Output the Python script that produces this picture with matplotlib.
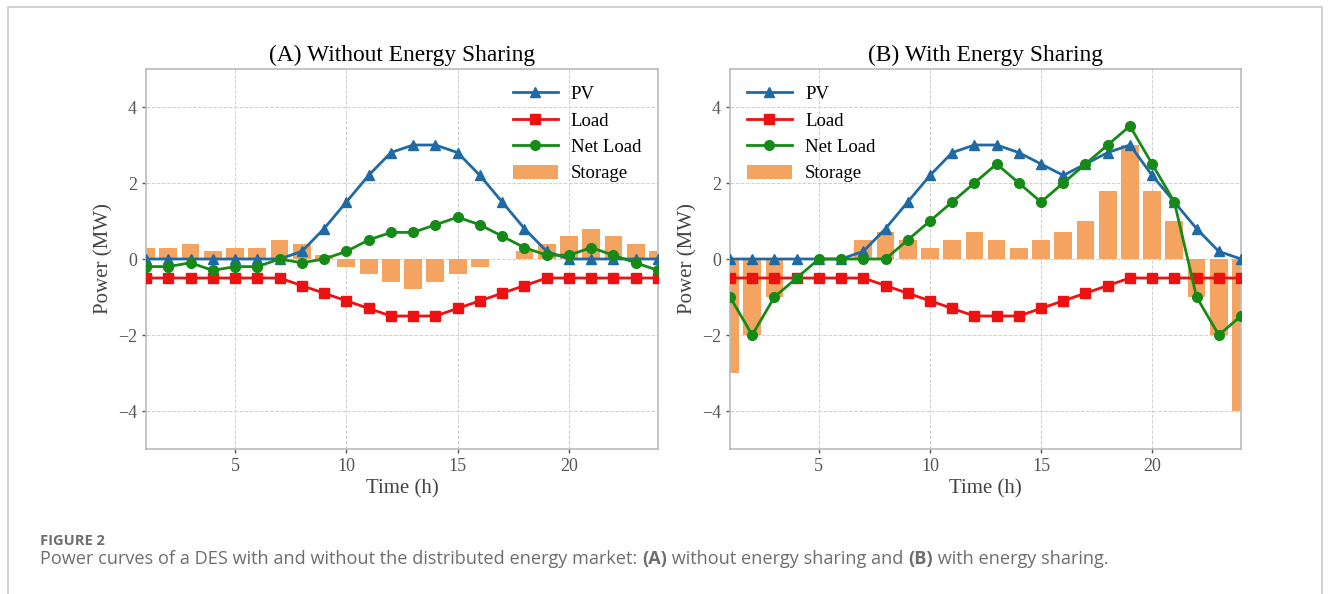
import matplotlib
matplotlib.use("Agg")
import matplotlib.pyplot as plt
import numpy as np
from matplotlib.patches import Rectangle

hours = np.arange(1, 25)

# (A) without energy sharing
pv_a = [0, 0, 0, 0, 0, 0, 0, 0.2, 0.8, 1.5, 2.2, 2.8, 3.0, 3.0, 2.8, 2.2, 1.5, 0.8, 0.2, 0, 0, 0, 0, 0]
load_a = [-0.5, -0.5, -0.5, -0.5, -0.5, -0.5, -0.5, -0.7, -0.9, -1.1, -1.3, -1.5,
          -1.5, -1.5, -1.3, -1.1, -0.9, -0.7, -0.5, -0.5, -0.5, -0.5, -0.5, -0.5]
net_a = [-0.2, -0.2, -0.1, -0.3, -0.2, -0.2, 0, -0.1, 0, 0.2, 0.5, 0.7,
         0.7, 0.9, 1.1, 0.9, 0.6, 0.3, 0.1, 0.1, 0.3, 0.1, -0.1, -0.3]
storage_a = [0.3, 0.3, 0.4, 0.2, 0.3, 0.3, 0.5, 0.4, 0.1, -0.2, -0.4, -0.6,
             -0.8, -0.6, -0.4, -0.2, 0, 0.2, 0.4, 0.6, 0.8, 0.6, 0.4, 0.2]

# (B) with energy sharing
pv_b = [0, 0, 0, 0, 0, 0, 0.2, 0.8, 1.5, 2.2, 2.8, 3.0, 3.0, 2.8, 2.5, 2.2, 2.5, 2.8, 3.0, 2.2, 1.5, 0.8, 0.2, 0]
load_b = load_a
net_b = [-1.0, -2.0, -1.0, -0.5, 0, 0, 0, 0, 0.5, 1.0, 1.5, 2.0,
         2.5, 2.0, 1.5, 2.0, 2.5, 3.0, 3.5, 2.5, 1.5, -1.0, -2.0, -1.5]
storage_b = [-3.0, -2.0, -1.0, 0, 0, 0, 0.5, 0.7, 0.5, 0.3, 0.5, 0.7,
             0.5, 0.3, 0.5, 0.7, 1.0, 1.8, 3.0, 1.8, 1.0, -1.0, -2.0, -4.0]

titles = ["(A) Without Energy Sharing", "(B) With Energy Sharing"]

plt.rcParams['font.family'] = ['Liberation Serif', 'DejaVu Serif']

fig = plt.figure(figsize=(13.31, 5.94), dpi=100)
ax_a = fig.add_axes([146 / 1331, 1 - 449 / 594, 512 / 1331, 380 / 594])
ax_b = fig.add_axes([730 / 1331, 1 - 449 / 594, 511 / 1331, 380 / 594])

panels = [(ax_a, pv_a, load_a, net_a, storage_a, 'upper right'),
          (ax_b, pv_b, load_b, net_b, storage_b, 'upper left')]

for i, (ax, pv, load, net, stor, loc) in enumerate(panels):
    ax.bar(hours, stor, width=0.8, color='#f4a460', label='Storage', zorder=2)
    ax.plot(hours, pv, color='#1f6aa5', marker='^', markersize=7, lw=2, label='PV', zorder=4)
    ax.plot(hours, load, color='#ee1111', marker='s', markersize=7, lw=2, label='Load', zorder=3)
    ax.plot(hours, net, color='#168a16', marker='o', markersize=7, lw=2, label='Net Load', zorder=5)
    ax.set_xlim(1, 24)
    ax.set_ylim(-5, 5)
    ax.set_xticks([5, 10, 15, 20])
    ax.set_yticks([-4, -2, 0, 2, 4])
    ax.grid(True, ls='--', lw=0.7, color='#d0d0d0', zorder=0)
    ax.set_axisbelow(True)
    for s in ax.spines.values():
        s.set_color('#bbbbbb')
        s.set_linewidth(1.2)
    ax.tick_params(labelsize=13, colors='#555555', length=3, width=1)
    ax.set_title(titles[i], fontsize=16.8, pad=6)
    ax.set_xlabel("Time (h)", fontsize=15, color='#444444', labelpad=3)
    ax.set_ylabel("Power (MW)", fontsize=15, color='#444444', labelpad=3)
    ax.legend(loc=loc, frameon=False, fontsize=13.5, handlelength=2.4,
              handletextpad=0.7, labelspacing=0.5)

# caption frame and caption text
fig.patches.append(Rectangle((7.5 / 1331, -0.1), 1314 / 1331, 1.1 - 7.5 / 594,
                             transform=fig.transFigure, fill=False,
                             edgecolor='#c8c8c8', lw=1.2))
fig.text(40 / 1331, 1 - 541 / 594, "FIGURE 2", family='Open Sans', fontsize=10.5,
         weight='bold', color='#6e6e6e', va='center')
cap = [("Power curves of a DES with and without the distributed energy market: ", 'normal'),
       ("(A)", 'bold'), (" without energy sharing and ", 'normal'),
       ("(B)", 'bold'), (" with energy sharing.", 'normal')]
prev = fig.text(40 / 1331, 1 - 568 / 594, cap[0][0], family='Open Sans', fontsize=13.1,
                color='#6e6e6e', va='bottom')
for txt, w in cap[1:]:
    prev = ax_a.annotate(txt, xy=(1, 0), xycoords=prev, va='bottom', ha='left',
                         family='Open Sans', fontsize=13.1, weight=w,
                         color='#6e6e6e', annotation_clip=False)
fig.savefig('out.png', dpi=100)
